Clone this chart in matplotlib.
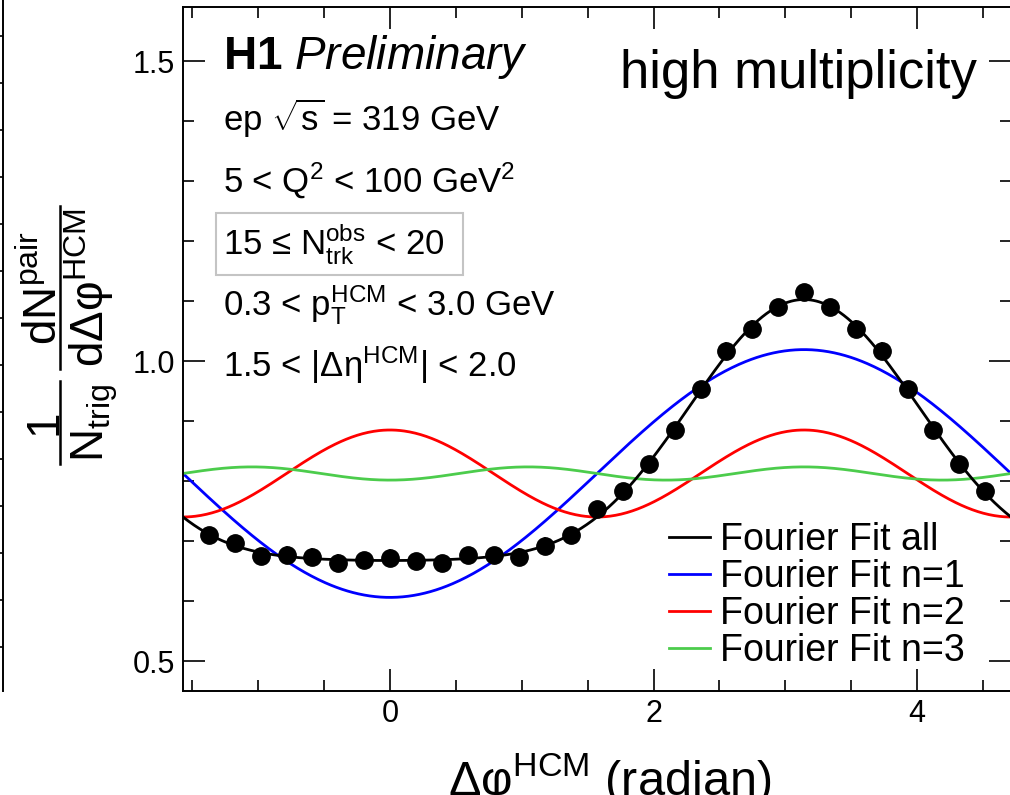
import numpy as np
import matplotlib
matplotlib.use('Agg')
import matplotlib.pyplot as plt
from matplotlib.ticker import MultipleLocator, FixedLocator
from matplotlib.patches import Rectangle
from matplotlib.lines import Line2D

plt.rcParams['font.family'] = ['Liberation Sans', 'DejaVu Sans']
plt.rcParams['mathtext.fontset'] = 'custom'
plt.rcParams['mathtext.rm'] = 'Liberation Sans'
plt.rcParams['mathtext.it'] = 'Liberation Sans:italic'
plt.rcParams['mathtext.bf'] = 'Liberation Sans:bold'
plt.rcParams['mathtext.sf'] = 'Liberation Sans'

# ---------------- data ----------------
# bin centres in units of pi/16
bin_index = list(range(-7, 24))
values = [0.710, 0.696, 0.675, 0.677, 0.674, 0.664, 0.668, 0.672, 0.666, 0.663,
          0.676, 0.676, 0.674, 0.692, 0.710, 0.753, 0.783, 0.828, 0.885, 0.953,
          1.017, 1.054, 1.090, 1.115, 1.090, 1.054, 1.017, 0.953, 0.885, 0.828,
          0.783]
errors = [0.014] * len(values)

# Fourier fit coefficients: a0 + c_n cos(n dphi)
fit_a0 = 0.8125
fit_c = {1: -0.2065, 2: 0.0725, 3: -0.011}

legend_labels = ['Fourier Fit all', 'Fourier Fit n=1', 'Fourier Fit n=2', 'Fourier Fit n=3']
colors = {0: 'black', 1: '#0000ff', 2: '#ff0000', 3: '#4ccc4c'}

x_ticks = [0, 2, 4]
y_ticks = [0.5, 1.0, 1.5]
y_ticklabels = ['0.5', '1.0', '1.5']

# ---------------- figure ----------------
W, H = 1010, 795
fig = plt.figure(figsize=(W / 100, H / 100), dpi=100)

def fx(px):
    return px / W

def fy(py):
    return 1 - py / H

# partial neighbouring panel edge on the far left
ax0 = fig.add_axes([fx(-500), fy(690.7), 503 / W, (690.7 + 10) / H])
for s in ['left', 'top', 'bottom']:
    ax0.spines[s].set_visible(False)
ax0.spines['right'].set_linewidth(1.4)
ax0.set_xticks([])
ax0.set_ylim(-(690.7 - 36) / 47, (36 + 10) / 47)
ax0.yaxis.set_major_locator(MultipleLocator(1))
ax0.yaxis.tick_right()
ax0.tick_params(axis='y', direction='in', length=8, width=1.2, labelright=False)
ax0.patch.set_alpha(0)

ax = fig.add_axes([fx(183), fy(690.7), (1011 - 183) / W, (690.7 - 7) / H])
ax.set_xlim(-np.pi / 2, 3 * np.pi / 2)
ax.set_ylim(0.4505, 1.59)

dphi = np.array(bin_index) * np.pi / 16
grid = np.linspace(-np.pi / 2, 3 * np.pi / 2, 600)

handles = []
fit_all = fit_a0 + sum(c * np.cos(n * grid) for n, c in fit_c.items())
for n in [1, 2, 3]:
    ax.plot(grid, fit_a0 + fit_c[n] * np.cos(n * grid), color=colors[n], lw=2.0, zorder=2)
ax.plot(grid, fit_all, color='black', lw=2.0, zorder=3)
for n in [0, 1, 2, 3]:
    handles.append(Line2D([], [], color=colors[n], lw=2.0))

ax.errorbar(dphi, values, yerr=errors, fmt='o', color='black', ms=12.5,
            elinewidth=1.2, capsize=0, zorder=5)

ax.xaxis.set_major_locator(FixedLocator(x_ticks))
ax.xaxis.set_minor_locator(MultipleLocator(0.5))
ax.yaxis.set_major_locator(FixedLocator(y_ticks))
ax.set_yticklabels(y_ticklabels)
ax.yaxis.set_minor_locator(MultipleLocator(0.1))
ax.tick_params(which='both', direction='in', top=True, right=True, width=1.2)
ax.tick_params(which='major', length=16, labelsize=22)
ax.tick_params(which='minor', length=8)
ax.tick_params(axis='x', pad=6)
ax.tick_params(axis='y', pad=6)
for s in ax.spines.values():
    s.set_linewidth(1.4)

ax.legend(handles, legend_labels, loc='upper left',
          bbox_to_anchor=(fx(669), fy(522)), bbox_transform=fig.transFigure,
          frameon=False, fontsize=27, handlelength=41 / 37.5, handletextpad=10 / 37.5,
          labelspacing=0.03, borderpad=0, borderaxespad=0)

# ---------------- texts ----------------
tx = fx(223)
fig.text(tx, fy(69), r'$\mathbf{H1}\ \mathit{Preliminary}$', fontsize=33, va='baseline')
fig.text(tx, fy(131), r'ep $\sqrt{\mathrm{s}}$ = 319 GeV', fontsize=25, va='baseline')
fig.text(tx, fy(193), r'5 < Q$^{2}$ < 100 GeV$^{2}$', fontsize=25, va='baseline')
fig.text(tx, fy(255), r'15 ≤ $\mathrm{N}_{\mathrm{trk}}^{\mathrm{obs}}$ < 20', fontsize=25, va='baseline')
fig.text(tx, fy(315), r'0.3 < $\mathrm{p}_{\mathrm{T}}^{\mathrm{HCM}}$ < 3.0 GeV', fontsize=25, va='baseline')
fig.text(tx, fy(377), r'1.5 < |Δη$^{\mathrm{HCM}}$| < 2.0', fontsize=25, va='baseline')
fig.add_artist(Rectangle((fx(216), fy(275)), (463 - 216) / W, (275 - 213) / H,
                         transform=fig.transFigure, fill=False, ec='#c4c4c4', lw=1.5))
fig.text(fx(620), fy(88), 'high multiplicity', fontsize=38, va='baseline')

fig.text(fx(448), fy(795), r'Δφ$^{\mathrm{HCM}}$ (radian)', fontsize=35, va='baseline')

# ---- y-axis title built from two stacked fractions (rotated) ----
ylab_size = 33
ylab_center = 335      # pixel row of label centre
bar_x = 60             # pixel column of fraction bars
num_base_x = 57        # baseline column of numerators
den_base_x = 104       # baseline column of denominators
frac_gap = 12

renderer = fig.canvas.get_renderer()

def rtext(s, xb):
    return fig.text(fx(xb), 0.5, s, fontsize=ylab_size, rotation=90,
                    rotation_mode='anchor', ha='center', va='baseline')

fracs = [('1', r'N$_{\mathrm{trig}}$'),
         (r'dN$^{\mathrm{pair}}$', r'dΔφ$^{\mathrm{HCM}}$')]
pieces = []
lengths = []
for num, den in fracs:
    tn = rtext(num, num_base_x)
    td = rtext(den, den_base_x)
    ln = tn.get_window_extent(renderer).height
    ld = td.get_window_extent(renderer).height
    pieces.append((tn, td))
    lengths.append(max(ln, ld) + 4)

total = sum(lengths) + frac_gap
y_bottom = ylab_center + total / 2
centers = [y_bottom - lengths[0] / 2, y_bottom - lengths[0] - frac_gap - lengths[1] / 2]
for (tn, td), c, L in zip(pieces, centers, lengths):
    tn.set_y(fy(c))
    td.set_y(fy(c))
    fig.add_artist(Line2D([fx(bar_x), fx(bar_x)], [fy(c - L / 2), fy(c + L / 2)],
                          transform=fig.transFigure, color='black', lw=1.8))

fig.savefig('out.png', dpi=100)
